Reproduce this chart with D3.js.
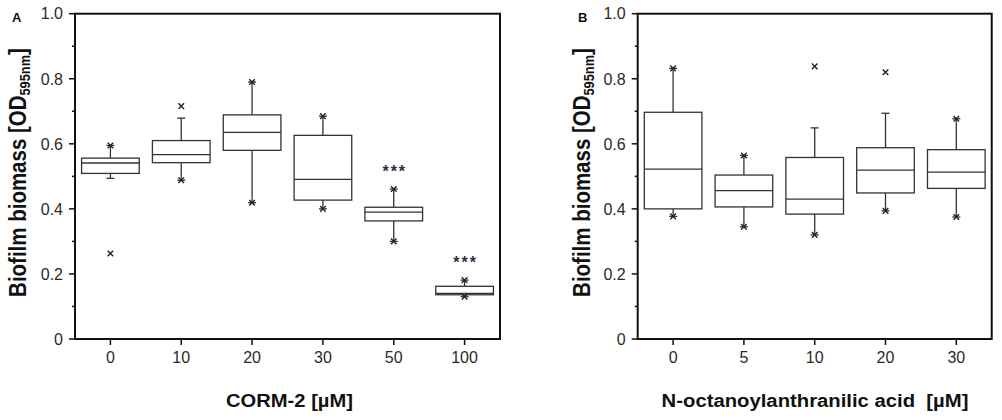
<!DOCTYPE html>
<html><head><meta charset="utf-8">
<script src="https://cdn.jsdelivr.net/npm/d3@7"></script>
<style>
html,body{margin:0;padding:0;background:#fff;}
svg{display:block;font-family:"Liberation Sans",Arial,sans-serif;}
</style></head>
<body>
<svg id="chart" width="1002" height="420"></svg>
<script>
// Panel A data (CORM-2)
const catsA = ["0","10","20","30","50","100"];
const minA  = [0.494, 0.488, 0.419, 0.400, 0.300, 0.130];
const q1A   = [0.509, 0.542, 0.580, 0.427, 0.363, 0.136];
const medA  = [0.541, 0.567, 0.635, 0.491, 0.390, 0.140];
const q3A   = [0.556, 0.610, 0.689, 0.626, 0.405, 0.162];
const maxA  = [0.595, 0.679, 0.790, 0.685, 0.461, 0.181];
const marksA = [[0.595,0.263],[0.716,0.488],[0.790,0.419],[0.685,0.400],[0.461,0.300],[0.181,0.130]];
const sigA = ["","","","","***","***"];

// Panel B data (N-octanoylanthranilic acid)
const catsB = ["0","5","10","20","30"];
const minB  = [0.377, 0.345, 0.320, 0.394, 0.375];
const q1B   = [0.400, 0.406, 0.384, 0.449, 0.463];
const medB  = [0.522, 0.456, 0.430, 0.519, 0.513];
const q3B   = [0.697, 0.504, 0.558, 0.588, 0.582];
const maxB  = [0.832, 0.564, 0.649, 0.694, 0.677];
const marksB = [[0.832,0.377],[0.564,0.345],[0.838,0.320],[0.820,0.394],[0.677,0.375]];
const sigB = ["","","","",""];

const yMajor = [0, 0.2, 0.4, 0.6, 0.8, 1.0];
const yMinor = [0.1, 0.3, 0.5, 0.7, 0.9];
const yTitleMain = "Biofilm biomass [OD";
const yTitleSub = "595nm";
const titleA = "CORM-2 [µM]";
const titleB = "N-octanoylanthranilic acid\u00a0\u00a0[µM]";

const svg = d3.select("#chart");
const plotTop = 13.7, plotBottom = 339;
const y = d3.scaleLinear().domain([0,1]).range([plotBottom, plotTop]);
const boxCol = "#333", frameCol = "#111";

function drawPanel(o){
  const g = svg.append("g");
  const x = d3.scaleBand().domain(o.cats).range([o.x0, o.x1]).padding(0);
  const bw = x.bandwidth();
  const cx = c => x(c) + bw/2;
  const half = bw*0.407;
  const cap = 4;

  // y axis ticks
  g.selectAll(".maj").data(yMajor).enter().append("line")
    .attr("x1", o.x0-6).attr("x2", o.x0).attr("y1", d=>y(d)).attr("y2", d=>y(d))
    .attr("stroke", frameCol).attr("stroke-width", 1.5);
  g.selectAll(".min").data(yMinor).enter().append("line")
    .attr("x1", o.x0-3).attr("x2", o.x0).attr("y1", d=>y(d)).attr("y2", d=>y(d))
    .attr("stroke", frameCol).attr("stroke-width", 1.5);
  g.selectAll(".ylab").data(yMajor).enter().append("text")
    .attr("x", o.x0-12).attr("y", d=>y(d)).attr("dy","0.36em")
    .attr("text-anchor","end").attr("font-size", 16).attr("fill","#2a2a2a")
    .text(d => d===0 ? "0" : d.toFixed(1));

  // x ticks
  g.selectAll(".xt").data(o.cats).enter().append("line")
    .attr("x1", cx).attr("x2", cx).attr("y1", plotBottom).attr("y2", plotBottom+6)
    .attr("stroke", frameCol).attr("stroke-width", 1.5);
  g.selectAll(".xl").data(o.cats).enter().append("text")
    .attr("x", cx).attr("y", 363).attr("text-anchor","middle")
    .attr("font-size", 16).attr("fill","#2a2a2a").text(d=>d);

  // frame
  g.append("rect").attr("x", o.x0).attr("y", plotTop).attr("width", o.x1-o.x0).attr("height", plotBottom-plotTop)
    .attr("fill","none").attr("stroke", frameCol).attr("stroke-width", 2);

  // boxes
  const data = o.cats.map((c,i)=>({c, min:o.min[i], q1:o.q1[i], med:o.med[i], q3:o.q3[i], max:o.max[i], marks:o.marks[i], sig:o.sig[i]}));
  const bx = g.selectAll(".box").data(data).enter().append("g");
  bx.append("line").attr("x1", d=>cx(d.c)).attr("x2", d=>cx(d.c))
    .attr("y1", d=>y(d.max)).attr("y2", d=>y(d.q3)).attr("stroke", boxCol).attr("stroke-width",1.3);
  bx.append("line").attr("x1", d=>cx(d.c)).attr("x2", d=>cx(d.c))
    .attr("y1", d=>y(d.q1)).attr("y2", d=>y(d.min)).attr("stroke", boxCol).attr("stroke-width",1.3);
  bx.append("line").attr("x1", d=>cx(d.c)-cap).attr("x2", d=>cx(d.c)+cap)
    .attr("y1", d=>y(d.max)).attr("y2", d=>y(d.max)).attr("stroke", boxCol).attr("stroke-width",1.3);
  bx.append("line").attr("x1", d=>cx(d.c)-cap).attr("x2", d=>cx(d.c)+cap)
    .attr("y1", d=>y(d.min)).attr("y2", d=>y(d.min)).attr("stroke", boxCol).attr("stroke-width",1.3);
  bx.append("rect").attr("x", d=>cx(d.c)-half).attr("width", half*2)
    .attr("y", d=>y(d.q3)).attr("height", d=>y(d.q1)-y(d.q3))
    .attr("fill","#fff").attr("stroke", boxCol).attr("stroke-width",1.3);
  bx.append("line").attr("x1", d=>cx(d.c)-half).attr("x2", d=>cx(d.c)+half)
    .attr("y1", d=>y(d.med)).attr("y2", d=>y(d.med)).attr("stroke", boxCol).attr("stroke-width",1.3);
  // x markers
  bx.each(function(d){
    const s = d3.select(this);
    d.marks.forEach(v=>{
      const px = cx(d.c), py = y(v), r = 2.8;
      s.append("path").attr("d", `M${px-r},${py-r}L${px+r},${py+r}M${px-r},${py+r}L${px+r},${py-r}`)
        .attr("stroke","#222").attr("stroke-width",1.4).attr("fill","none");
    });
    if (d.sig) {
      s.append("text").attr("x", cx(d.c)+1).attr("y", y(d.max)-22).attr("dy","0.62em")
        .attr("text-anchor","middle").attr("font-size",16).attr("font-weight","bold")
        .attr("letter-spacing","2px").attr("fill","#2b3040").text(d.sig);
    }
  });

  // panel letter
  g.append("text").attr("x", o.letterX).attr("y", 21.5).attr("font-size", 13).attr("font-weight","bold")
    .attr("fill","#111").text(o.letter);

  // y title
  const yt = g.append("text").attr("font-size", 24).attr("font-weight","bold").attr("fill","#111")
    .attr("text-anchor","middle");
  yt.append("tspan").text(yTitleMain);
  yt.append("tspan").attr("font-size", 15).attr("dy", 4).text(yTitleSub);
  yt.append("tspan").attr("dy", -4).text("]");
  const L = yt.node().getComputedTextLength();
  yt.attr("transform", `translate(${o.ytX},172.5) rotate(-90) scale(${249/L},1)`);

  // x title
  const xt = g.append("text").attr("font-size", 19).attr("font-weight","bold").attr("fill","#111")
    .attr("text-anchor","middle").text(o.title);
  const L2 = xt.node().getComputedTextLength();
  xt.attr("transform", `translate(${o.titleX},406.5) scale(${o.titleW/L2},1)`);
}

drawPanel({cats:catsA, min:minA, q1:q1A, med:medA, q3:q3A, max:maxA, marks:marksA, sig:sigA,
  x0:75, x1:500, letter:"A", letterX:12, ytX:26, title:titleA, titleX:289.5, titleW:127});
drawPanel({cats:catsB, min:minB, q1:q1B, med:medB, q3:q3B, max:maxB, marks:marksB, sig:sigB,
  x0:637.7, x1:991.7, letter:"B", letterX:578, ytX:590, title:titleB, titleX:815, titleW:307});
</script>
</body></html>
